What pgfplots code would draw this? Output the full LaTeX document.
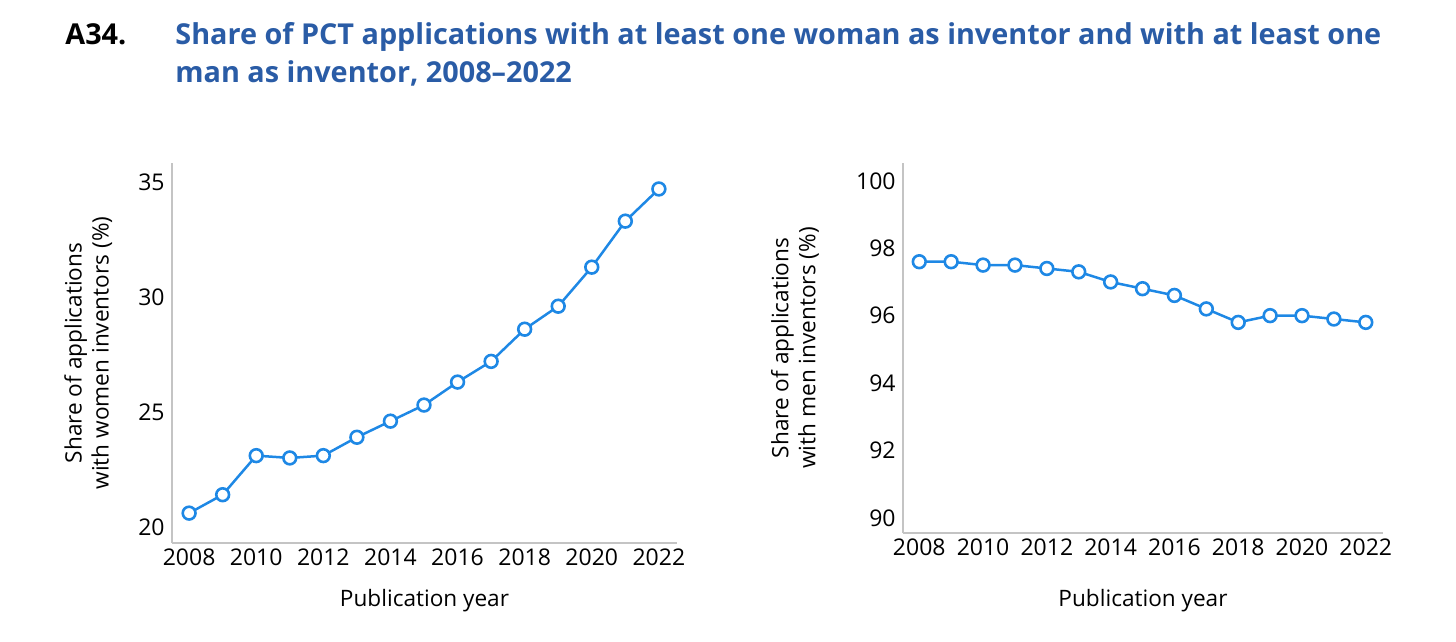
\documentclass[border=0pt]{standalone}
\usepackage{fontspec}
\setmainfont{Open Sans}
\usepackage{pgfplots}
\pgfplotsset{compat=1.18}
\definecolor{titleblue}{HTML}{2A5CA6}
\definecolor{lineblue}{HTML}{1E88E5}
\definecolor{axisgray}{HTML}{C4C4C4}

\pgfplotsset{
  panel/.style={
    scale only axis,
    axis x line*=bottom, axis y line*=left,
    axis line style={axisgray, line width=0.9pt},
    major tick length=0pt, tick style={draw=none},
    xtick={2008,2010,...,2022},
    xmin=2007.49, xmax=2022.54,
    /pgf/number format/assume math mode=true,
    /pgf/number format/1000 sep={},
    tick label style={font=\fontsize{11.5}{13}\selectfont, inner sep=0pt},
    xticklabel style={yshift=-2.5pt},
    yticklabel style={xshift=-3.5pt},
    label style={font=\fontsize{11.3}{13.5}\selectfont, align=center},
    xlabel={Publication year},
    clip=false,
  },
  series/.style={color=lineblue, line width=1.25pt, mark=*, mark size=3.2pt,
    mark options={fill=white, draw=lineblue, line width=1.3pt}},
}

\begin{document}
\begin{tikzpicture}
\path[use as bounding box] (0,0) rectangle (728pt,321pt);

% title
\node[anchor=base west, inner sep=0pt, font=\fontsize{14.4}{17}\selectfont\bfseries] at (32.5pt,298.5pt) {A34.};
\node[anchor=base west, inner sep=0pt, font=\fontsize{14.4}{17}\selectfont\bfseries, text=titleblue] at (87.5pt,298.5pt)
  {Share of PCT applications with at least one woman as inventor and with at least one};
\node[anchor=base west, inner sep=0pt, font=\fontsize{14.4}{17}\selectfont\bfseries, text=titleblue] at (87.5pt,279.5pt)
  {man as inventor, 2008--2022};

% left panel: women
\begin{axis}[panel, at={(86pt,49.5pt)}, anchor=south west,
  width=252.5pt, height=190pt,
  ymin=19.3, ymax=35.83, ytick={20,25,30,35},
  xlabel style={at={(axis description cs:0.5,0)}, anchor=base, yshift=-32pt},
  ylabel style={at={(axis description cs:-0.166,0.5)}, anchor=center},
  ylabel={Share of applications\\with women inventors (\%)},
]
\addplot[series] coordinates {
  (2008,20.6) (2009,21.4) (2010,23.1) (2011,23.0) (2012,23.1)
  (2013,23.9) (2014,24.6) (2015,25.3) (2016,26.3) (2017,27.2)
  (2018,28.6) (2019,29.6) (2020,31.3) (2021,33.3) (2022,34.7)
};
\end{axis}

% right panel: men
\begin{axis}[panel, at={(451.5pt,54.5pt)}, anchor=south west,
  width=240pt, height=185pt,
  ymin=89.55, ymax=100.53, ytick={90,92,...,100},
  xlabel style={at={(axis description cs:0.5,0)}, anchor=base, yshift=-37pt},
  ylabel style={at={(axis description cs:-0.225,0.5)}, anchor=center},
  ylabel={Share of applications\\with men inventors (\%)},
]
\addplot[series] coordinates {
  (2008,97.6) (2009,97.6) (2010,97.5) (2011,97.5) (2012,97.4)
  (2013,97.3) (2014,97.0) (2015,96.8) (2016,96.6) (2017,96.2)
  (2018,95.8) (2019,96.0) (2020,96.0) (2021,95.9) (2022,95.8)
};
\end{axis}
\end{tikzpicture}
\end{document}
